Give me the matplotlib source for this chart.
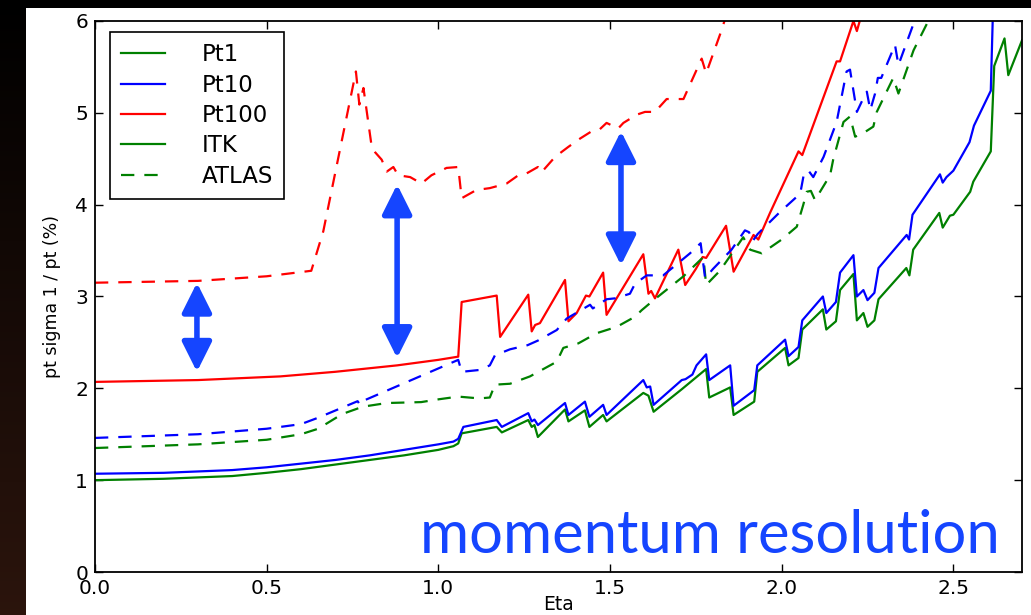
import numpy as np
import matplotlib
matplotlib.use('Agg')
import matplotlib.pyplot as plt
from matplotlib.lines import Line2D
from matplotlib.patches import Rectangle, FancyArrowPatch

# ITK curves (solid)
eta_pt1 = [0.0, 0.2, 0.4, 0.5, 0.6, 0.7, 0.8, 0.9, 1.0, 1.044, 1.058, 1.068, 1.17, 1.185,
           1.262, 1.272, 1.28, 1.29, 1.369, 1.379, 1.427, 1.44, 1.48, 1.49, 1.597, 1.612,
           1.627, 1.709, 1.78, 1.789, 1.85, 1.86, 1.92, 1.929, 2.01, 2.02, 2.049, 2.06,
           2.12, 2.13, 2.158, 2.17, 2.209, 2.219, 2.238, 2.25, 2.27, 2.282, 2.363, 2.372,
           2.383, 2.459, 2.469, 2.49, 2.50, 2.549, 2.558, 2.609, 2.619, 2.649, 2.66, 2.70]
res_pt1 = [1.00, 1.015, 1.045, 1.08, 1.12, 1.17, 1.22, 1.27, 1.33, 1.37, 1.40, 1.51, 1.58, 1.52,
           1.655, 1.58, 1.60, 1.47, 1.77, 1.64, 1.76, 1.58, 1.71, 1.64, 1.95, 1.92,
           1.745, 1.99, 2.21, 1.90, 2.01, 1.71, 1.855, 2.18, 2.44, 2.25, 2.33, 2.64,
           2.86, 2.64, 2.73, 3.07, 3.245, 2.74, 2.82, 2.67, 2.74, 2.97, 3.31, 3.23,
           3.51, 3.91, 3.75, 3.88, 3.89, 4.14, 4.25, 4.58, 5.51, 5.81, 5.41, 5.79]

eta_pt10 = [0.0, 0.2, 0.4, 0.5, 0.6, 0.7, 0.8, 0.9, 1.0, 1.044, 1.058, 1.073, 1.17, 1.185,
            1.262, 1.272, 1.28, 1.29, 1.369, 1.379, 1.427, 1.44, 1.48, 1.49, 1.597, 1.607,
            1.617, 1.627, 1.709, 1.72, 1.74, 1.752, 1.78, 1.789, 1.85, 1.86, 1.92, 1.929,
            2.01, 2.02, 2.049, 2.06, 2.12, 2.13, 2.158, 2.17, 2.209, 2.219, 2.238, 2.25,
            2.27, 2.282, 2.364, 2.371, 2.381, 2.461, 2.469, 2.48, 2.50, 2.547, 2.56, 2.609,
            2.616, 2.625]
res_pt10 = [1.07, 1.08, 1.11, 1.14, 1.18, 1.22, 1.27, 1.33, 1.39, 1.42, 1.45, 1.58, 1.655, 1.58,
            1.73, 1.64, 1.66, 1.60, 1.84, 1.71, 1.855, 1.69, 1.82, 1.71, 2.09, 2.01,
            2.02, 1.82, 2.09, 2.10, 2.15, 2.25, 2.37, 2.09, 2.25, 1.81, 1.98, 2.25,
            2.53, 2.35, 2.45, 2.74, 3.00, 2.82, 2.94, 3.26, 3.45, 3.00, 3.07, 2.96,
            3.04, 3.31, 3.67, 3.62, 3.89, 4.33, 4.24, 4.30, 4.37, 4.68, 4.86, 5.24,
            6.2, 6.5]

eta_pt100 = [0.0, 0.3, 0.54, 0.7, 0.88, 1.0, 1.058, 1.068, 1.17, 1.18, 1.262, 1.272, 1.282,
             1.296, 1.369, 1.379, 1.403, 1.43, 1.44, 1.48, 1.49, 1.597, 1.612, 1.62, 1.631,
             1.699, 1.719, 1.75, 1.77, 1.78, 1.838, 1.86, 1.918, 1.932, 1.966, 2.049, 2.06,
             2.16, 2.17, 2.209, 2.219, 2.25]
res_pt100 = [2.07, 2.09, 2.13, 2.18, 2.25, 2.31, 2.345, 2.94, 3.01, 2.56, 3.02, 2.62, 2.69,
             2.71, 3.18, 2.73, 2.82, 3.01, 3.00, 3.26, 2.80, 3.46, 3.03, 3.06, 2.98,
             3.51, 3.125, 3.30, 3.43, 3.42, 3.77, 3.27, 3.67, 3.62, 3.91, 4.58, 4.54,
             5.56, 5.56, 6.0, 5.89, 6.3]

# current ATLAS (dashed)
eta_atlas1 = [0.0, 0.3, 0.5, 0.6, 0.65, 0.72, 0.78, 0.85, 0.95, 1.0, 1.058, 1.12, 1.15, 1.165,
              1.209, 1.267, 1.345, 1.364, 1.408, 1.461, 1.52, 1.573, 1.592, 1.627, 1.714,
              1.772, 1.78, 1.82, 1.888, 1.908, 1.942, 2.0, 2.044, 2.063, 2.073, 2.085, 2.097,
              2.141, 2.15, 2.18, 2.199, 2.214, 2.238, 2.267, 2.277, 2.325, 2.34, 2.384,
              2.427, 2.44]
res_atlas1 = [1.35, 1.39, 1.44, 1.50, 1.56, 1.72, 1.80, 1.84, 1.85, 1.88, 1.91, 1.89, 1.90, 2.04,
              2.05, 2.13, 2.29, 2.44, 2.49, 2.60, 2.67, 2.78, 2.85, 2.96, 3.22,
              3.43, 3.125, 3.28, 3.645, 3.51, 3.47, 3.62, 3.76, 4.00, 4.14, 4.15, 4.05,
              4.32, 4.49, 4.90, 4.96, 4.74, 4.78, 4.85, 5.01, 5.38, 5.21, 5.68,
              6.0, 6.2]

eta_atlas10 = [0.0, 0.3, 0.5, 0.6, 0.65, 0.765, 0.772, 0.785, 1.058, 1.068, 1.12, 1.15, 1.165,
               1.209, 1.26, 1.29, 1.345, 1.374, 1.442, 1.45, 1.49, 1.515, 1.558, 1.573, 1.607,
               1.655, 1.733, 1.764, 1.777, 1.80, 1.854, 1.893, 1.905, 1.915, 1.93, 1.995,
               2.054, 2.066, 2.08, 2.092, 2.122, 2.16, 2.189, 2.199, 2.219, 2.238, 2.248,
               2.258, 2.272, 2.28, 2.29, 2.33, 2.34, 2.384, 2.40]
res_atlas10 = [1.46, 1.50, 1.56, 1.61, 1.68, 1.86, 1.82, 1.87, 2.31, 2.18, 2.20, 2.25, 2.36,
               2.425, 2.47, 2.52, 2.635, 2.76, 2.91, 2.87, 2.97, 2.98, 3.03, 3.14, 3.23,
               3.23, 3.47, 3.58, 3.20, 3.30, 3.51, 3.72, 3.70, 3.60, 3.68, 3.92,
               4.12, 4.36, 4.36, 4.30, 4.52, 4.90, 5.45, 5.47, 5.01, 5.16, 5.23,
               5.03, 5.21, 5.38, 5.38, 5.74, 5.52, 5.97, 6.3]

eta_atlas100 = [0.0, 0.3, 0.5, 0.63, 0.665, 0.76, 0.77, 0.782, 0.806, 0.816, 0.835, 0.85, 0.869,
                0.883, 0.918, 0.951, 0.98, 1.024, 1.058, 1.068, 1.111, 1.15, 1.199, 1.233,
                1.257, 1.29, 1.30, 1.34, 1.379, 1.413, 1.447, 1.47, 1.49, 1.524, 1.539, 1.578,
                1.602, 1.631, 1.665, 1.714, 1.72, 1.767, 1.78, 1.825, 1.85]
res_atlas100 = [3.15, 3.17, 3.22, 3.28, 3.71, 5.45, 5.09, 5.27, 4.63, 4.57, 4.49, 4.36, 4.41,
                4.32, 4.30, 4.23, 4.32, 4.40, 4.41, 4.07, 4.16, 4.18, 4.23, 4.32,
                4.34, 4.41, 4.35, 4.52, 4.63, 4.72, 4.80, 4.82, 4.89, 4.83, 4.89, 4.98,
                5.01, 5.01, 5.15, 5.15, 5.20, 5.59, 5.43, 5.90, 6.2]

legend_names = ['Pt1', 'Pt10', 'Pt100', 'ITK', 'ATLAS']

# double arrows: eta, bottom, top
arrow_eta = [0.297, 0.88, 1.532]
arrow_low = [2.18, 2.33, 3.34]
arrow_high = [3.15, 4.22, 4.80]

GREEN = (0, 0.5, 0)
BLUE = (0, 0, 1)
RED = (1, 0, 0)
SLIDE_BLUE = '#1545ff'

plt.rcParams['font.family'] = 'DejaVu Sans'

fig = plt.figure(figsize=(10.31, 6.15), dpi=100, facecolor='black')

# slide background: dark strip on the left, white panel
bg = fig.add_axes([0, 0, 1, 1], zorder=-1)
bg.set_xlim(0, 1031)
bg.set_ylim(615, 0)
bg.axis('off')
grad = np.linspace(0, 1, 256)[:, None, None] * np.array([0.17, 0.08, 0.05])[None, None, :]
bg.imshow(grad, extent=(0, 26, 615, 0), aspect='auto')
bg.add_patch(Rectangle((26, 8), 1005, 607, facecolor='white', edgecolor='none'))

ax = fig.add_axes([0.0921, 0.0699, 0.8992, 0.896])
ax.set_facecolor('white')

lw = 1.6
dash = (6, 4.5)
ax.plot(eta_pt1, res_pt1, color=GREEN, lw=lw)
ax.plot(eta_pt10, res_pt10, color=BLUE, lw=lw)
ax.plot(eta_pt100, res_pt100, color=RED, lw=lw)
ax.plot(eta_atlas1, res_atlas1, color=GREEN, lw=lw, dashes=dash)
ax.plot(eta_atlas10, res_atlas10, color=BLUE, lw=lw, dashes=dash)
ax.plot(eta_atlas100, res_atlas100, color=RED, lw=lw, dashes=dash)

ax.set_xlim(0, 2.7)
ax.set_ylim(0, 6)
ax.set_xticks([0.0, 0.5, 1.0, 1.5, 2.0, 2.5])
ax.set_yticks([0, 1, 2, 3, 4, 5, 6])
ax.set_xticklabels(['0.0', '0.5', '1.0', '1.5', '2.0', '2.5'])
ax.tick_params(direction='in', length=6, width=1, top=True, right=True, labelsize=14.5, pad=5)
for s in ax.spines.values():
    s.set_linewidth(1.3)
ax.set_xlabel('Eta', fontsize=13.5, labelpad=-2)
ax.set_ylabel('pt sigma 1 / pt (%)', fontsize=12.5, labelpad=10)

handles = [Line2D([], [], color=GREEN, lw=lw),
           Line2D([], [], color=BLUE, lw=lw),
           Line2D([], [], color=RED, lw=lw),
           Line2D([], [], color=GREEN, lw=lw),
           Line2D([], [], color=GREEN, lw=lw, dashes=dash)]
leg = ax.legend(handles, legend_names, loc='upper left', bbox_to_anchor=(0.016, 0.98),
                borderaxespad=0, fontsize=16.5, fancybox=False, framealpha=1,
                edgecolor='black', handlelength=1.9, handletextpad=1.6, labelspacing=0.32,
                borderpad=0.5)
leg.get_frame().set_linewidth(1.2)

for xa, lo, hi in zip(arrow_eta, arrow_low, arrow_high):
    ax.add_patch(FancyArrowPatch((xa, lo), (xa, hi),
                                 arrowstyle='<|-|>,head_length=1.0,head_width=0.5',
                                 mutation_scale=18, lw=4, color=SLIDE_BLUE,
                                 shrinkA=0, shrinkB=0))

ax.text(0.351, 0.034, 'momentum resolution', transform=ax.transAxes, fontsize=43,
        family='Lato', color=SLIDE_BLUE, ha='left', va='baseline')

fig.savefig('out.png', dpi=100, facecolor=fig.get_facecolor())
